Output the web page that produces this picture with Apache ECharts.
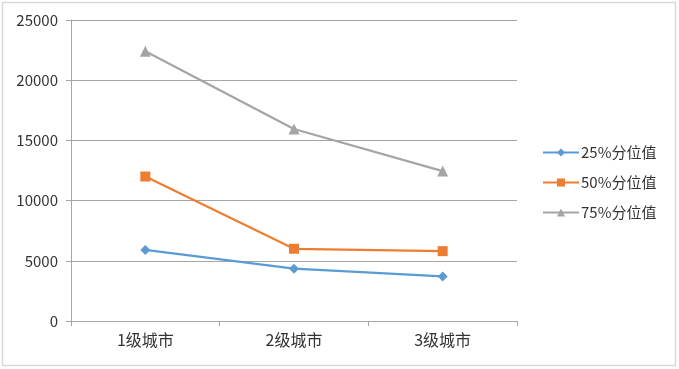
<!DOCTYPE html>
<html><head><meta charset="utf-8">
<script src="https://cdn.jsdelivr.net/npm/echarts@6/dist/echarts.min.js"></script>
<style>html,body{margin:0;padding:0;background:#fff}#c{width:679px;height:369px}</style>
</head><body><div id="c"></div>
<script>
const categories = ['1级城市', '2级城市', '3级城市'];
const seriesNames = ['25%分位值', '50%分位值', '75%分位值'];
const p25 = [5900, 4350, 3700];
const p50 = [12000, 6000, 5800];
const p75 = [22400, 15950, 12450];
const yTicks = [0, 5000, 10000, 15000, 20000, 25000];

const font = '"Noto Sans CJK SC", "Noto Sans", sans-serif';
const colors = ['#5B9BD5', '#ED7D31', '#A5A5A5'];
const symbols = ['diamond', 'rect', 'triangle'];
const sizes = [10, 10, 11];
const values = [p25, p50, p75];

const chart = echarts.init(document.getElementById('c'));
chart.setOption({
  animation: false,
  textStyle: { fontFamily: font },
  graphic: [{
    type: 'rect', shape: { x: 2.5, y: 2.5, width: 673, height: 363 },
    style: { fill: 'none', stroke: '#D9D9D9', lineWidth: 1.5 }, silent: true
  }],
  grid: { left: 71, right: 162, top: 20, bottom: 48, containLabel: false },
  legend: {
    orient: 'vertical', left: 537, top: 140, itemGap: 15,
    itemWidth: 36, itemHeight: 10,
    textStyle: { fontSize: 15, color: '#333', fontFamily: font, padding: [0, 0, 0, -3] },
    data: seriesNames
  },
  xAxis: {
    type: 'category', data: categories, boundaryGap: true,
    axisLine: { lineStyle: { color: '#A6A6A6', width: 1 } },
    axisTick: { show: true, length: 5, lineStyle: { color: '#A6A6A6' } },
    axisLabel: { fontSize: 16, color: '#333', margin: 11, fontFamily: font }
  },
  yAxis: {
    type: 'value', min: yTicks[0], max: yTicks[yTicks.length - 1], interval: 5000,
    axisLine: { show: true, lineStyle: { color: '#A6A6A6', width: 1 } },
    axisTick: { show: true, length: 5, lineStyle: { color: '#A6A6A6' } },
    splitLine: { lineStyle: { color: '#A6A6A6', width: 1 } },
    axisLabel: { fontSize: 15, color: '#333', margin: 13, fontFamily: font,
      formatter: v => String(v) }
  },
  series: seriesNames.map((n, i) => ({
    name: n, type: 'line', data: values[i],
    symbol: symbols[i], symbolSize: sizes[i], showAllSymbol: true,
    itemStyle: { color: colors[i] },
    lineStyle: { color: colors[i], width: 2.25 }
  }))
});
</script></body></html>
